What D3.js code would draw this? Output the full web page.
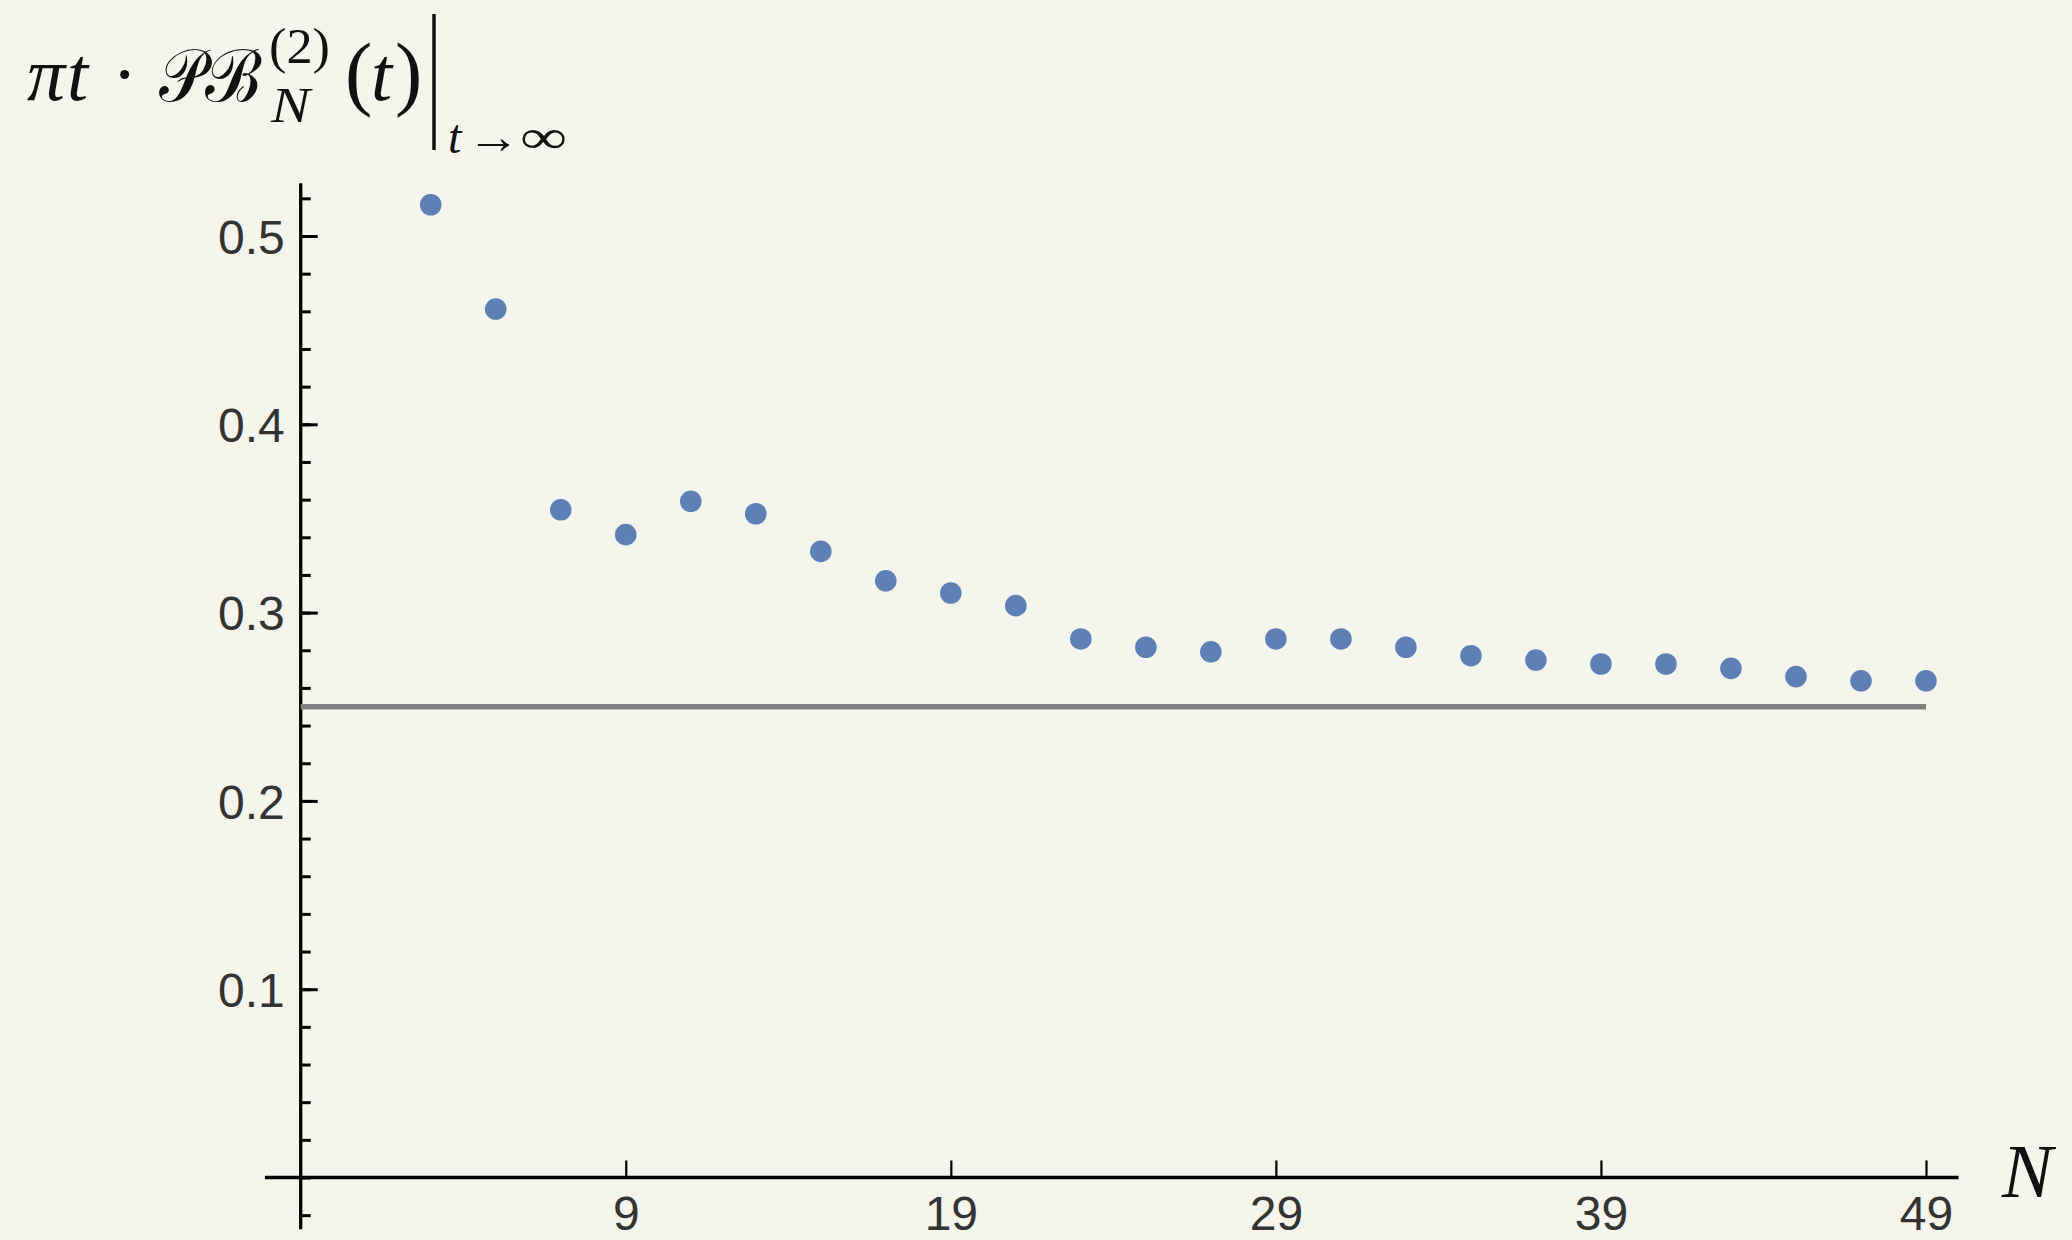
<!DOCTYPE html>
<html lang="en">

<head>
    <meta charset="UTF-8">
    <title>πt · PB_N^(2)(t) as t → ∞</title>
    <script src="https://d3js.org/d3.v7.min.js"></script>
    <style>
        html, body {
            margin: 0;
            padding: 0;
            background: #f5f4ed;
        }
        svg {
            display: block;
        }
        .tick text {
            font-family: "Liberation Sans", Arial, sans-serif;
            font-size: 48px;
            fill: #333;
        }
        .math {
            font-family: "Liberation Serif", "DejaVu Serif", serif;
            fill: #111;
        }
    </style>
</head>

<body>
    <div id="chart"></div>

    <script>
        const width = 2072;
        const height = 1240;

        // data
        const nValues = [3, 5, 7, 9, 11, 13, 15, 17, 19, 21, 23, 25, 27, 29, 31, 33, 35, 37, 39, 41, 43, 45, 47, 49];
        const values = [0.5166, 0.4612, 0.3546, 0.3414, 0.3591, 0.3525, 0.3325, 0.3169, 0.3104, 0.3037, 0.2860, 0.2816,
            0.2792, 0.2860, 0.2860, 0.2816, 0.2771, 0.2748, 0.2727, 0.2727, 0.2704, 0.2660, 0.2638, 0.2638];
        const xTicks = [9, 19, 29, 39, 49];
        const yTicks = [0.1, 0.2, 0.3, 0.4, 0.5];
        const yMinorTicks = d3.range(-0.02, 0.53, 0.02).map(v => +v.toFixed(2));
        const limitValue = 0.25;

        const x = d3.scaleLinear()
            .domain([-1, 49])
            .range([300.7, 1926]);

        const y = d3.scaleLinear()
            .domain([0, 0.5])
            .range([1177.5, 236]);

        const svg = d3.select("#chart")
            .append("svg")
            .attr("width", width)
            .attr("height", height);

        svg.append("rect")
            .attr("width", width)
            .attr("height", height)
            .attr("fill", "#f5f4ed");

        // y axis: line, inward ticks, labels on the left
        svg.append("line")
            .attr("x1", x(-1)).attr("x2", x(-1))
            .attr("y1", y(-0.0275)).attr("y2", y(0.528))
            .attr("stroke", "#000")
            .attr("stroke-width", 3.3);

        const yMinor = svg.append("g")
            .attr("transform", `translate(${x(-1)},0)`)
            .call(d3.axisRight(y).tickValues(yMinorTicks).tickSize(10).tickFormat(""));
        yMinor.select(".domain").remove();
        yMinor.selectAll(".tick line").attr("stroke", "#000").attr("stroke-width", 3);

        const yMajor = svg.append("g")
            .attr("transform", `translate(${x(-1)},0)`)
            .call(d3.axisRight(y).tickValues(yTicks).tickSize(17).tickFormat(""));
        yMajor.select(".domain").remove();
        yMajor.selectAll(".tick line").attr("stroke", "#000").attr("stroke-width", 3);

        const yLabels = svg.append("g")
            .attr("transform", `translate(${x(-1)},0)`)
            .call(d3.axisLeft(y).tickValues(yTicks).tickSize(0).tickPadding(16).tickFormat(d3.format(".1f")));
        yLabels.select(".domain").remove();
        yLabels.selectAll(".tick text").attr("dy", "0.36em");

        // x axis
        svg.append("line")
            .attr("x1", x(-2.1)).attr("x2", x(50))
            .attr("y1", y(0)).attr("y2", y(0))
            .attr("stroke", "#000")
            .attr("stroke-width", 3.3);

        const xMajor = svg.append("g")
            .attr("transform", `translate(0,${y(0)})`)
            .call(d3.axisTop(x).tickValues(xTicks).tickSize(17).tickFormat(""));
        xMajor.select(".domain").remove();
        xMajor.selectAll(".tick line").attr("stroke", "#000").attr("stroke-width", 2.2);

        const xLabels = svg.append("g")
            .attr("transform", `translate(0,${y(0)})`)
            .call(d3.axisBottom(x).tickValues(xTicks).tickSize(0).tickPadding(18).tickFormat(d3.format("d")));
        xLabels.select(".domain").remove();

        // limit line
        svg.append("line")
            .attr("x1", x(-1)).attr("x2", x(49))
            .attr("y1", y(limitValue)).attr("y2", y(limitValue))
            .attr("stroke", "#808080")
            .attr("stroke-width", 5.5);

        // points
        svg.append("g")
            .selectAll("circle")
            .data(d3.zip(nValues, values))
            .join("circle")
            .attr("cx", d => x(d[0]))
            .attr("cy", d => y(d[1]))
            .attr("r", 10.8)
            .attr("fill", "#5e81b5");

        // axis label N
        svg.append("text")
            .attr("class", "math")
            .attr("x", 2002)
            .attr("y", 1197)
            .attr("font-size", 76)
            .attr("font-style", "italic")
            .text("N");

        // y label: πt · PB_N^(2)(t) |_{t→∞}, one text element with placed tspans
        const title = svg.append("text").attr("class", "math");

        function piece(txt, px, py, size, opts = {}) {
            const t = title.append("tspan")
                .attr("x", px).attr("y", py)
                .attr("font-size", size)
                .attr("font-style", opts.italic ? "italic" : "normal")
                .text(txt);
            if (opts.len) t.attr("textLength", opts.len).attr("lengthAdjust", "spacingAndGlyphs");
            return t;
        }

        piece("π", 27, 100, 76, { italic: true });
        piece("t", 67, 100, 76, { italic: true });
        piece("·", 112, 100, 76);
        piece("𝒫ℬ", 159, 101, 74, { len: 100 });
        piece("(2)", 269, 62.5, 50, { len: 61 });
        piece("N", 271, 121.7, 50, { italic: true, len: 39 });
        piece("(", 345, 100, 82);
        piece("t", 371, 100, 76, { italic: true });
        piece(")", 395, 100, 82);
        piece("t", 448, 153, 48, { italic: true });
        piece("→", 467, 153, 48, { len: 53 });
        piece("∞", 520, 153, 48, { len: 47 });

        svg.append("line")
            .attr("x1", 434).attr("x2", 434)
            .attr("y1", 14).attr("y2", 150)
            .attr("stroke", "#111").attr("stroke-width", 3.5);
    </script>
</body>

</html>
